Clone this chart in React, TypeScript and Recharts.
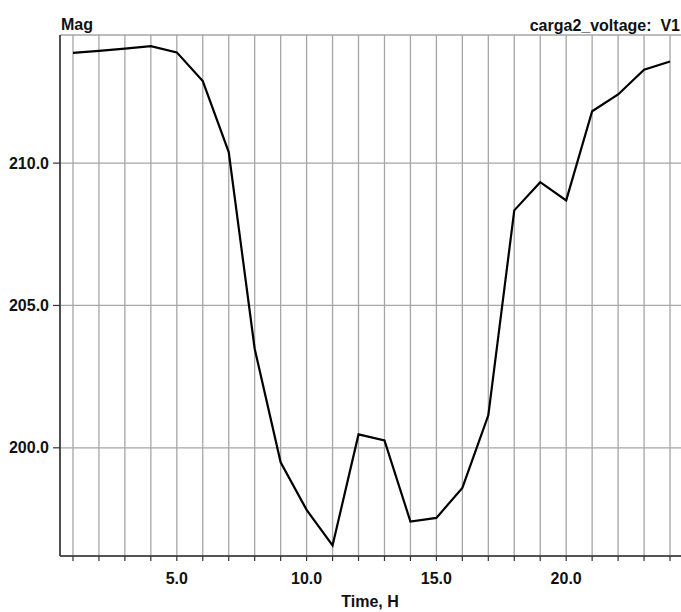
import { CartesianGrid, Line, LineChart, XAxis, YAxis } from "recharts";

const hours = [1, 2, 3, 4, 5, 6, 7, 8, 9, 10, 11, 12, 13, 14, 15, 16, 17, 18, 19, 20, 21, 22, 23, 24];
const voltage = [
  213.87, 213.94, 214.02, 214.11, 213.89, 212.88, 210.39, 203.48, 199.49, 197.82, 196.57, 200.47,
  200.26, 197.41, 197.54, 198.59, 201.14, 208.34, 209.33, 208.69, 211.82, 212.41, 213.28, 213.57,
];
const yTicks = [200, 205, 210];
const labelledHours = [5, 10, 15, 20];

const data = hours.map((h, i) => ({ hour: h, mag: voltage[i] }));

const font = "'Liberation Sans', Arial, sans-serif";
const axisColor = "#333333";
const tickStyle = { fill: "#111111", fontFamily: font, fontWeight: 700, fontSize: 16 };
const textStyle = {
  position: "absolute" as const,
  fontFamily: font,
  fontWeight: 700,
  fontSize: 16,
  lineHeight: "16px",
  color: "#111111",
  whiteSpace: "nowrap" as const,
};

export default function App() {
  return (
    <div
      style={{
        position: "absolute",
        left: 0,
        top: 0,
        width: 681,
        height: 612,
        overflow: "hidden",
        background: "#ffffff",
      }}
    >
      <LineChart width={700} height={612} data={data} margin={{ top: 35, right: 17, bottom: 26, left: 0 }}>
        <CartesianGrid stroke="#a6a6a6" strokeWidth={1.3} />
        <XAxis
          dataKey="hour"
          type="number"
          domain={[0.5, 24.5]}
          ticks={hours}
          interval={0}
          allowDataOverflow
          tickFormatter={(v: number) => (labelledHours.includes(v) ? v.toFixed(1) : "")}
          tick={tickStyle}
          tickSize={5}
          tickMargin={12}
          height={30}
          axisLine={{ stroke: axisColor, strokeWidth: 1.6 }}
          tickLine={{ stroke: axisColor, strokeWidth: 1.2 }}
        />
        <XAxis
          xAxisId="top"
          orientation="top"
          dataKey="hour"
          type="number"
          domain={[0.5, 24.5]}
          allowDataOverflow
          tick={false}
          tickLine={false}
          height={0}
          axisLine={{ stroke: axisColor, strokeWidth: 1.6 }}
        />
        <YAxis
          type="number"
          domain={[196.2, 214.5]}
          ticks={yTicks}
          allowDataOverflow
          tickFormatter={(v: number) => v.toFixed(1)}
          tick={tickStyle}
          tickSize={7}
          tickMargin={4}
          width={60}
          axisLine={{ stroke: axisColor, strokeWidth: 1.6 }}
          tickLine={{ stroke: axisColor, strokeWidth: 1.2 }}
        />
        <Line
          type="linear"
          dataKey="mag"
          stroke="#000000"
          strokeWidth={2.2}
          dot={false}
          isAnimationActive={false}
        />
      </LineChart>
      <div style={{ ...textStyle, left: 61, top: 16.5 }}>Mag</div>
      <div style={{ ...textStyle, right: 1, top: 17.5 }}>carga2_voltage:&nbsp; V1</div>
      <div style={{ ...textStyle, left: 370, top: 593.5, transform: "translateX(-50%)" }}>Time, H</div>
    </div>
  );
}
